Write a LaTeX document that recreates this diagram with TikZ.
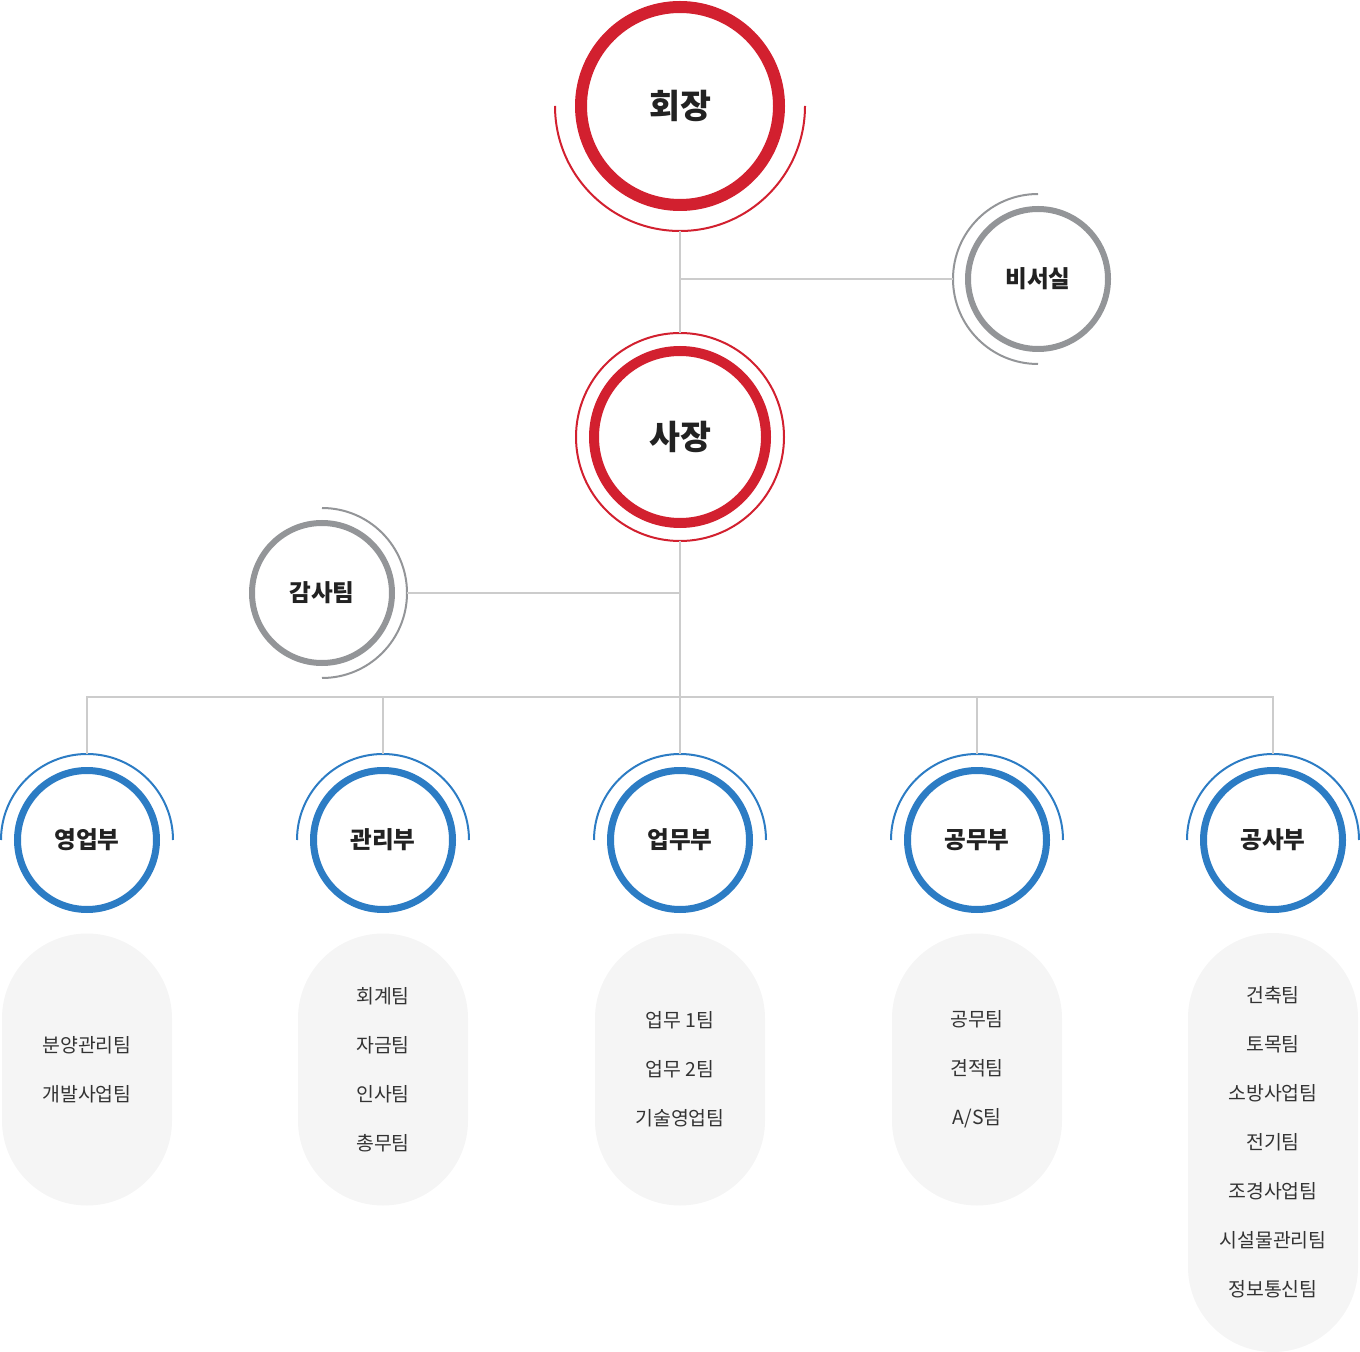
\documentclass[tikz,border=0pt]{standalone}
\usepackage{fontspec}
\setmainfont{Noto Sans CJK KR}
\definecolor{cred}{HTML}{D2202F}
\definecolor{cblue}{HTML}{2C7CC4}
\definecolor{cgray}{HTML}{939598}
\definecolor{cline}{HTML}{CCCCCC}
\definecolor{cpill}{HTML}{F5F5F5}
\definecolor{ctext}{HTML}{222222}
\definecolor{cpt}{HTML}{333333}
\begin{document}
\begin{tikzpicture}[x=0.5pt,y=0.5pt,
  ring/.style={circle,inner sep=0pt,outer sep=0pt,fill=white,text=ctext},
  halo/.style={circle,inner sep=0pt,outer sep=0pt,minimum size=#1},
  bigtitle/.style={font=\fontsize{16.8pt}{17pt}\selectfont\bfseries},
  smalltitle/.style={font=\fontsize{11.8pt}{12pt}\selectfont\bfseries},
  redring/.style={ring,draw=cred,bigtitle},
  grayring/.style={ring,draw=cgray,line width=3pt,minimum size=70pt,smalltitle},
  deptring/.style={ring,draw=cblue,line width=3.5pt,minimum size=69.5pt,smalltitle},
  thinarc/.style={line width=1pt},
  conn/.style={draw=cline,line width=1pt},
  pill/.style={rectangle,fill=cpill,rounded corners=42.5pt,minimum width=85pt,
    inner sep=0pt,outer sep=0pt,text=cpt,align=center,
    font=\fontsize{9.7pt}{24.5pt}\selectfont}]
\useasboundingbox (0,0) rectangle (1360,-1352);

% chairman
\node[redring,line width=6pt,minimum size=99pt] (chair) at (680,-106) {회장};
\node[halo=125pt] (chairO) at (chair.center) {};
\draw[thinarc,cred] (chairO.west) arc[start angle=180,end angle=360,radius=62.5pt];

% president
\node[circle,inner sep=0pt,outer sep=0pt,draw=cred,line width=1pt,minimum size=104pt] (presO) at (680,-437) {};
\node[redring,line width=5pt,minimum size=86pt] (pres) at (presO.center) {사장};

% secretary
\node[grayring] (sec) at (1038,-279) {비서실};
\node[halo=85pt] (secO) at (sec.center) {};
\draw[thinarc,cgray] (secO.north) arc[start angle=90,end angle=270,radius=42.5pt];

% audit
\node[grayring] (aud) at (322,-593) {감사팀};
\node[halo=85pt] (audO) at (aud.center) {};
\draw[thinarc,cgray] (audO.north) arc[start angle=90,end angle=-90,radius=42.5pt];

% departments
\foreach \n/\x/\t in {d1/87/영업부,d2/383/관리부,d3/680/업무부,d4/977/공무부,d5/1273/공사부}{
  \node[deptring] (\n) at (\x,-840) {\t};
  \node[halo=86pt] (\n O) at (\n.center) {};
  \draw[thinarc,cblue] (\n O.east) arc[start angle=0,end angle=180,radius=43pt];
}

% connectors
\coordinate (bar) at (680,-697);
\draw[conn] (chairO.south) -- (presO.north);
\draw[conn] (secO.west) -- (secO.west -| chairO.south);
\draw[conn] (presO.south) -- (bar);
\draw[conn] (audO.east) -- (audO.east -| presO.south);
\draw[conn] (d1O.north) |- (bar) -| (d5O.north);
\draw[conn] (d2O.north) -- (d2O.north |- bar);
\draw[conn] (d3O.north) -- (bar);
\draw[conn] (d4O.north) -- (d4O.north |- bar);

% team pills
\node[pill,minimum height=136pt] (p1) at (87,-1069.5) {분양관리팀\\개발사업팀};
\node[pill,minimum height=136pt] (p2) at (383,-1069.5) {회계팀\\자금팀\\인사팀\\총무팀};
\node[pill,minimum height=136pt] (p3) at (680,-1069.5) {업무 1팀\\업무 2팀\\기술영업팀};
\node[pill,minimum height=136pt] (p4) at (977,-1069.5) {공무팀\\견적팀\\A/S팀};
\node[pill,minimum height=209.5pt] (p5) at (1273,-1142.5) {건축팀\\토목팀\\소방사업팀\\전기팀\\조경사업팀\\시설물관리팀\\정보통신팀};
\end{tikzpicture}
\end{document}
